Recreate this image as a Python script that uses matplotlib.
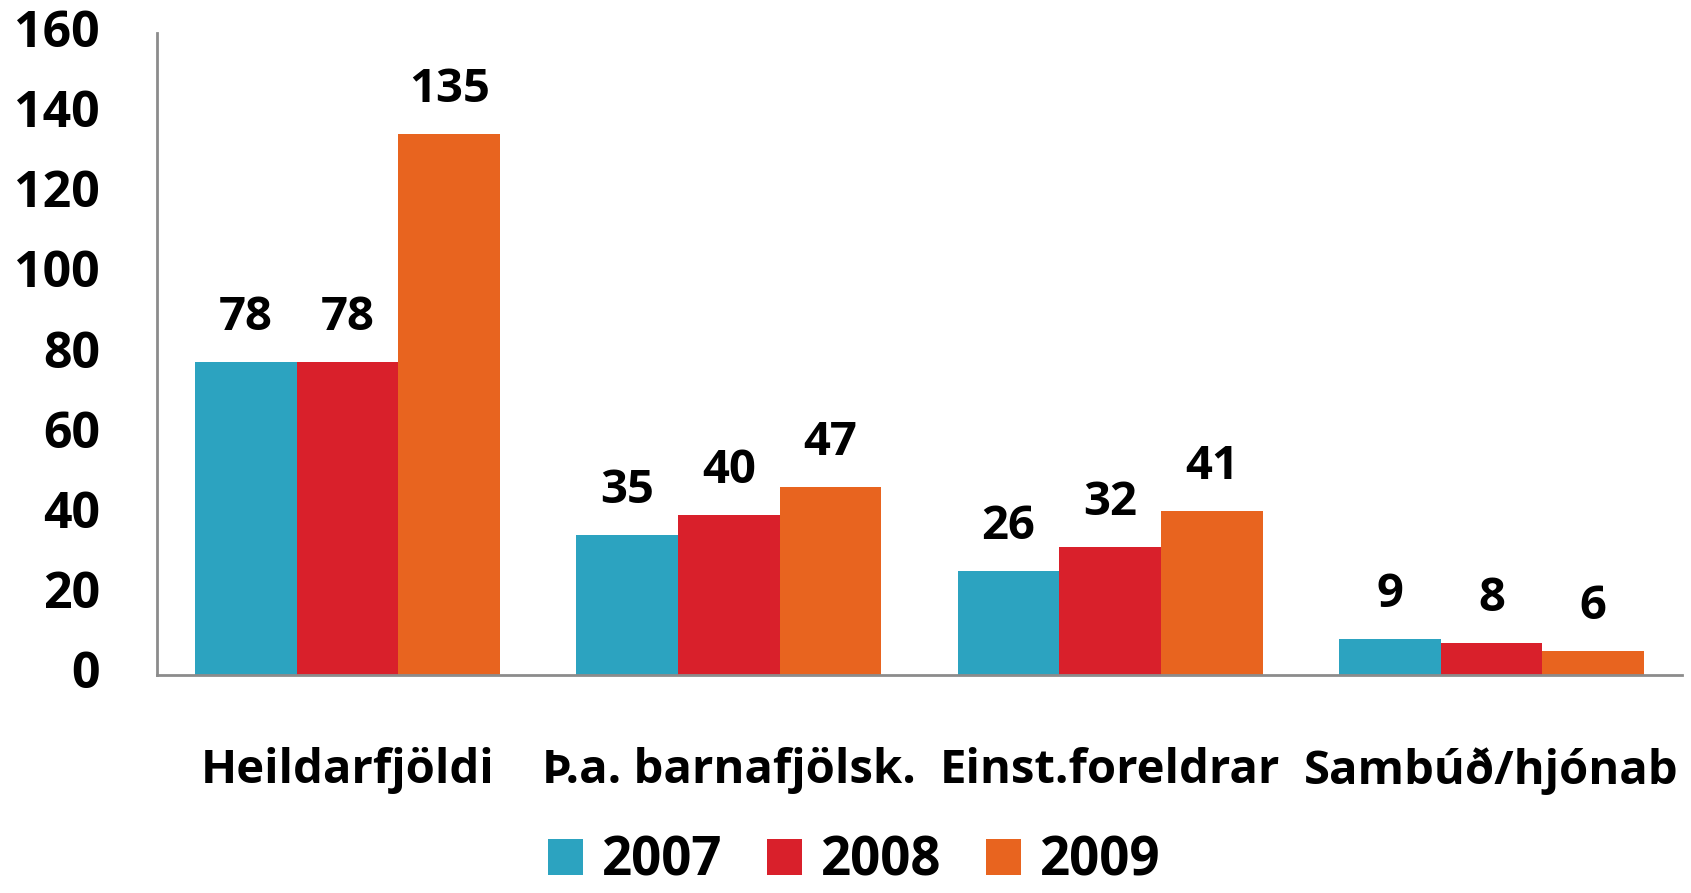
import numpy as np
import matplotlib.transforms as mtransforms
from matplotlib import pyplot as plt

categories = ["Heildarfjöldi", "Þ.a. barnafjölsk.", "Einst.foreldrar", "Sambúð/hjónab"]
years = ["2007", "2008", "2009"]
values_2007 = [78, 35, 26, 9]
values_2008 = [78, 40, 32, 8]
values_2009 = [135, 47, 41, 6]
colors = ["#2CA3C0", "#D9202B", "#E8641F"]

plt.rcParams['font.family'] = ['Open Sans', 'DejaVu Sans']
plt.rcParams['font.weight'] = 'bold'

fig = plt.figure(figsize=(16.91, 8.93), dpi=100)
ax = fig.add_axes([0.0928, 0.2441, 0.9019, 0.7185])

x = np.arange(len(categories))
width = 0.8 / 3
series = [values_2007, values_2008, values_2009]
for i, (vals, year) in enumerate(zip(series, years)):
    bars = ax.bar(x + (i - 1) * width, vals, width, color=colors[i], label=year)
    for b, v in zip(bars, vals):
        ax.annotate(str(v), (b.get_x() + b.get_width() / 2, v),
                    xytext=(0, 23), textcoords='offset points',
                    ha='center', va='baseline', fontsize=34, fontweight='bold')

ax.set_xlim(-0.5, 3.5)
ax.set_ylim(0, 160)
ax.set_yticks(range(0, 161, 20))
ax.set_xticks(x)
ax.set_xticklabels(categories, fontsize=34, fontweight='bold')
ax.tick_params(axis='y', length=0, pad=41, labelsize=36)
ax.tick_params(axis='x', length=0, pad=52)
# y labels sit a little above their ticks in the original
shift = mtransforms.ScaledTranslation(0, 4 / 72, fig.dpi_scale_trans)
for lab in ax.get_yticklabels():
    lab.set_fontweight('bold')
    lab.set_transform(lab.get_transform() + shift)

for s in ['top', 'right']:
    ax.spines[s].set_visible(False)
for s in ['left', 'bottom']:
    ax.spines[s].set_color('#8C8C8C')
    ax.spines[s].set_linewidth(2)

fig.legend(loc='center', bbox_to_anchor=(0.5053, 0.035), ncol=3, frameon=False,
           handlelength=0.66, handleheight=0.66, handletextpad=0.36,
           columnspacing=0.85, prop={'size': 38, 'weight': 'bold'})

fig.savefig('out.png', dpi=100)
